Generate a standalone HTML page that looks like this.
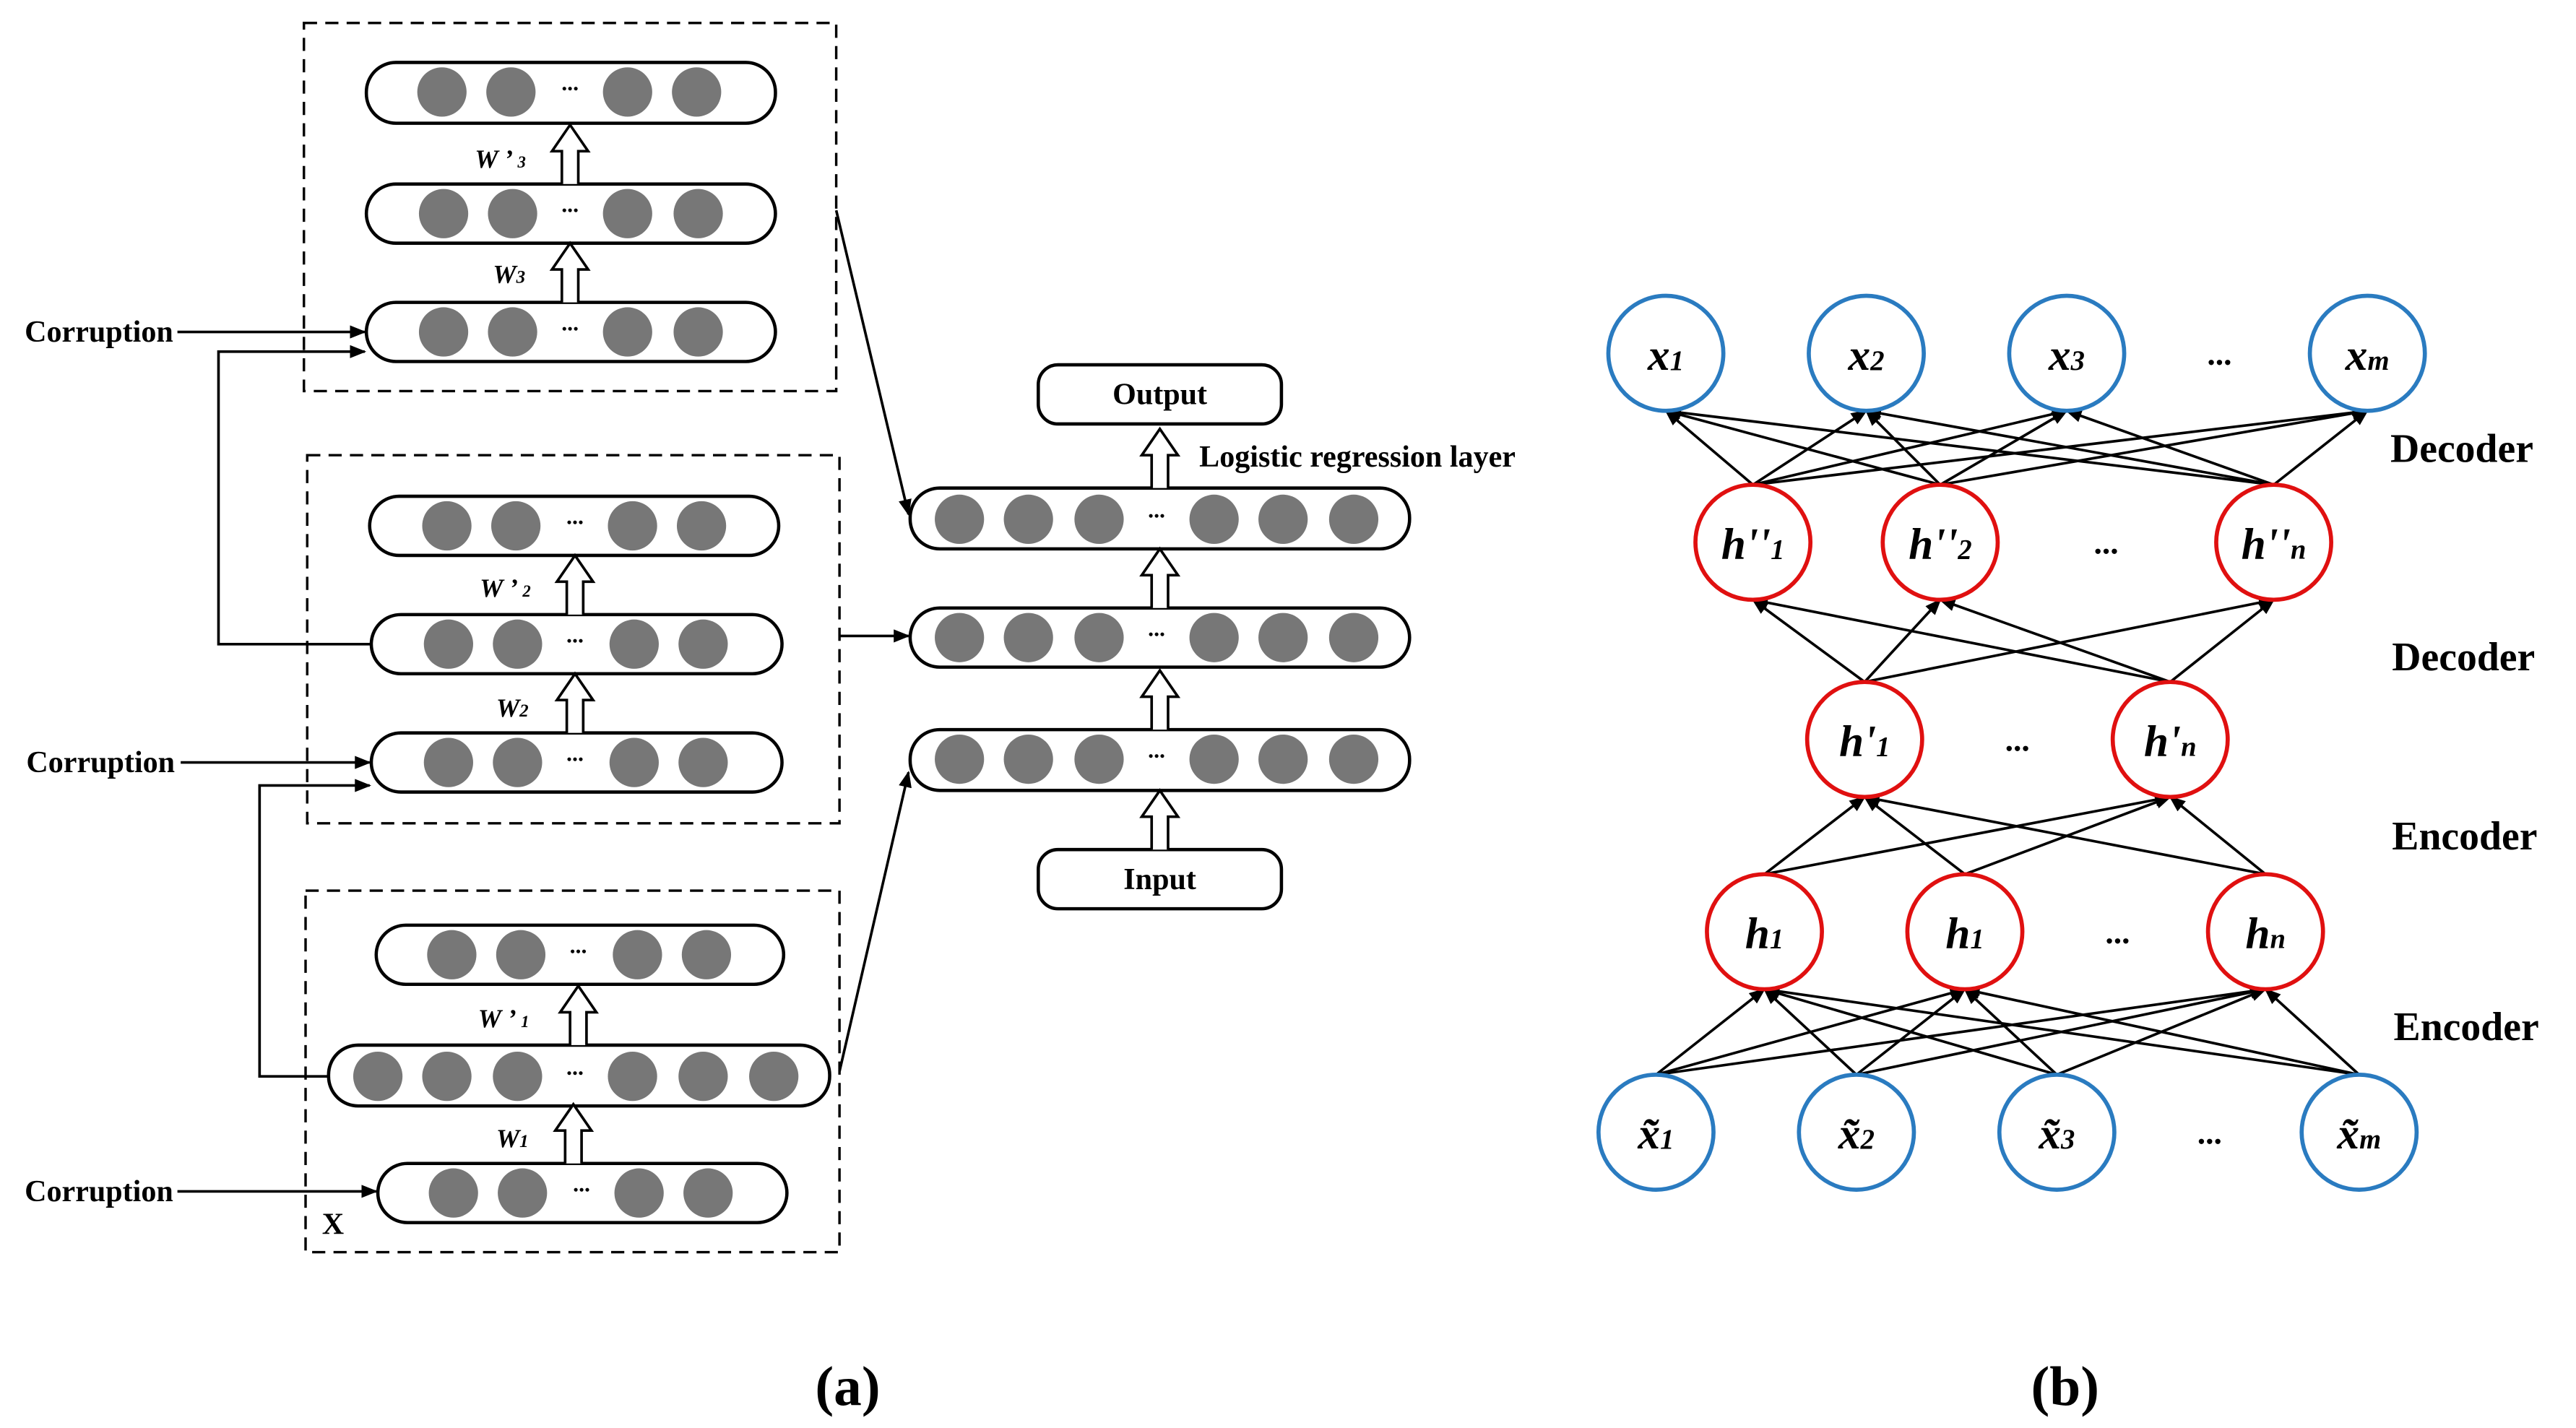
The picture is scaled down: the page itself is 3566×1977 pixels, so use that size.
<!DOCTYPE html>
<html><head><meta charset="utf-8"><style>
html,body{margin:0;padding:0;background:#fff}
svg{display:block}
text{font-family:"Liberation Serif",serif;font-weight:bold}
</style></head><body>
<svg width="3566" height="1977" viewBox="0 0 1568 869" preserveAspectRatio="none" xmlns="http://www.w3.org/2000/svg">
<defs>
<marker id="ar" markerWidth="10" markerHeight="8" refX="9" refY="4" orient="auto" markerUnits="userSpaceOnUse"><path d="M0,0 L10,4 L0,8 z" fill="#000"/></marker>
<g id="ha"><path d="M-5,0 V-20 H-11 L0,-36 L11,-20 H5 V0" fill="#fff" stroke="#000" stroke-width="1.6"/></g>
</defs>
<g fill="none" stroke="#000" stroke-width="1.5" stroke-dasharray="8,5">
<rect x="185" y="14" width="324" height="224"/>
<rect x="187" y="277" width="324" height="224"/>
<rect x="186" y="542" width="325" height="220"/>
</g>
<g stroke="#000" stroke-width="2" fill="#fff">
<rect x="223" y="38" width="249" height="37" rx="18"/>
<rect x="223" y="112" width="249" height="36" rx="18"/>
<rect x="223" y="184" width="249" height="36" rx="18"/>
<rect x="225" y="302" width="249" height="36" rx="18"/>
<rect x="226" y="374" width="250" height="36" rx="18"/>
<rect x="226" y="446" width="250" height="36" rx="18"/>
<rect x="229" y="563" width="248" height="36" rx="18"/>
<rect x="200" y="636" width="305" height="37" rx="18"/>
<rect x="230" y="708" width="249" height="36" rx="18"/>
<rect x="554" y="297" width="304" height="37" rx="18"/>
<rect x="554" y="370" width="304" height="36" rx="18"/>
<rect x="554" y="444" width="304" height="37" rx="18"/>
<rect x="632" y="222" width="148" height="36" rx="12"/>
<rect x="632" y="517" width="148" height="36" rx="12"/>
</g>
<g fill="#777">
<circle cx="269" cy="56" r="15"/><circle cx="311" cy="56" r="15"/><circle cx="382" cy="56" r="15"/><circle cx="424" cy="56" r="15"/>
<circle cx="270" cy="130" r="15"/><circle cx="312" cy="130" r="15"/><circle cx="382" cy="130" r="15"/><circle cx="425" cy="130" r="15"/>
<circle cx="270" cy="202" r="15"/><circle cx="312" cy="202" r="15"/><circle cx="382" cy="202" r="15"/><circle cx="425" cy="202" r="15"/>
<circle cx="272" cy="320" r="15"/><circle cx="314" cy="320" r="15"/><circle cx="385" cy="320" r="15"/><circle cx="427" cy="320" r="15"/>
<circle cx="273" cy="392" r="15"/><circle cx="315" cy="392" r="15"/><circle cx="386" cy="392" r="15"/><circle cx="428" cy="392" r="15"/>
<circle cx="273" cy="464" r="15"/><circle cx="315" cy="464" r="15"/><circle cx="386" cy="464" r="15"/><circle cx="428" cy="464" r="15"/>
<circle cx="275" cy="581" r="15"/><circle cx="317" cy="581" r="15"/><circle cx="388" cy="581" r="15"/><circle cx="430" cy="581" r="15"/>
<circle cx="230" cy="655" r="15"/><circle cx="272" cy="655" r="15"/><circle cx="315" cy="655" r="15"/><circle cx="385" cy="655" r="15"/><circle cx="428" cy="655" r="15"/><circle cx="471" cy="655" r="15"/>
<circle cx="276" cy="726" r="15"/><circle cx="318" cy="726" r="15"/><circle cx="389" cy="726" r="15"/><circle cx="431" cy="726" r="15"/>
<circle cx="584" cy="316" r="15"/><circle cx="626" cy="316" r="15"/><circle cx="669" cy="316" r="15"/><circle cx="739" cy="316" r="15"/><circle cx="781" cy="316" r="15"/><circle cx="824" cy="316" r="15"/>
<circle cx="584" cy="388" r="15"/><circle cx="626" cy="388" r="15"/><circle cx="669" cy="388" r="15"/><circle cx="739" cy="388" r="15"/><circle cx="781" cy="388" r="15"/><circle cx="824" cy="388" r="15"/>
<circle cx="584" cy="462" r="15"/><circle cx="626" cy="462" r="15"/><circle cx="669" cy="462" r="15"/><circle cx="739" cy="462" r="15"/><circle cx="781" cy="462" r="15"/><circle cx="824" cy="462" r="15"/>
</g>
<g font-size="14" text-anchor="middle">
<text x="347" y="55">...</text><text x="347" y="129">...</text><text x="347" y="201">...</text>
<text x="350" y="319">...</text><text x="350" y="391">...</text><text x="350" y="463">...</text>
<text x="352" y="580">...</text><text x="350" y="654">...</text><text x="354" y="725">...</text>
<text x="704" y="315">...</text><text x="704" y="387">...</text><text x="704" y="461">...</text>
</g>
<use href="#ha" x="347" y="112"/><use href="#ha" x="347" y="184"/>
<use href="#ha" x="350" y="374"/><use href="#ha" x="350" y="446"/>
<use href="#ha" x="352" y="636"/><use href="#ha" x="349" y="708"/>
<use href="#ha" x="706" y="297"/><use href="#ha" x="706" y="370"/><use href="#ha" x="706" y="444"/><use href="#ha" x="706" y="517"/>
<g font-size="16" font-style="italic">
<text x="289" y="102">W ’ <tspan font-size="10">3</tspan></text>
<text x="300" y="172">W<tspan font-size="11">3</tspan></text>
<text x="292" y="363">W ’ <tspan font-size="10">2</tspan></text>
<text x="302" y="436">W<tspan font-size="11">2</tspan></text>
<text x="291" y="625">W ’ <tspan font-size="10">1</tspan></text>
<text x="302" y="698">W<tspan font-size="11">1</tspan></text>
</g>
<g font-size="18.5">
<text x="15" y="208">Corruption</text>
<text x="16" y="470">Corruption</text>
<text x="15" y="731">Corruption</text>
<text x="196" y="751">X</text>
<text x="706" y="246" text-anchor="middle">Output</text>
<text x="706" y="541" text-anchor="middle">Input</text>
</g>
<text x="730" y="284" font-size="18.5">Logistic regression layer</text>
<g stroke="#000" stroke-width="1.6" fill="none" marker-end="url(#ar)">
<line x1="108" y1="202" x2="222" y2="202"/>
<line x1="110" y1="464" x2="225" y2="464"/>
<line x1="108" y1="725" x2="229" y2="725"/>
<polyline points="226,392 133,392 133,214 222,214"/>
<polyline points="200,655 158,655 158,478 225,478"/>
<line x1="509" y1="128" x2="553" y2="313"/>
<line x1="511" y1="387" x2="553" y2="387"/>
<line x1="511" y1="652" x2="553" y2="470"/>
</g>
<g stroke="#000" stroke-width="1.6" marker-end="url(#ar)">
<line x1="1067" y1="295" x2="1014" y2="250"/><line x1="1067" y1="295" x2="1136" y2="250"/><line x1="1067" y1="295" x2="1258" y2="250"/><line x1="1067" y1="295" x2="1441" y2="250"/>
<line x1="1181" y1="295" x2="1014" y2="250"/><line x1="1181" y1="295" x2="1136" y2="250"/><line x1="1181" y1="295" x2="1258" y2="250"/><line x1="1181" y1="295" x2="1441" y2="250"/>
<line x1="1384" y1="295" x2="1014" y2="250"/><line x1="1384" y1="295" x2="1136" y2="250"/><line x1="1384" y1="295" x2="1258" y2="250"/><line x1="1384" y1="295" x2="1441" y2="250"/>
<line x1="1135" y1="415" x2="1067" y2="365"/><line x1="1135" y1="415" x2="1181" y2="365"/><line x1="1135" y1="415" x2="1384" y2="365"/>
<line x1="1321" y1="415" x2="1067" y2="365"/><line x1="1321" y1="415" x2="1181" y2="365"/><line x1="1321" y1="415" x2="1384" y2="365"/>
<line x1="1074" y1="532" x2="1135" y2="485"/><line x1="1074" y1="532" x2="1321" y2="485"/>
<line x1="1196" y1="532" x2="1135" y2="485"/><line x1="1196" y1="532" x2="1321" y2="485"/>
<line x1="1379" y1="532" x2="1135" y2="485"/><line x1="1379" y1="532" x2="1321" y2="485"/>
<line x1="1008" y1="654" x2="1074" y2="602"/><line x1="1008" y1="654" x2="1196" y2="602"/><line x1="1008" y1="654" x2="1379" y2="602"/>
<line x1="1130" y1="654" x2="1074" y2="602"/><line x1="1130" y1="654" x2="1196" y2="602"/><line x1="1130" y1="654" x2="1379" y2="602"/>
<line x1="1252" y1="654" x2="1074" y2="602"/><line x1="1252" y1="654" x2="1196" y2="602"/><line x1="1252" y1="654" x2="1379" y2="602"/>
<line x1="1436" y1="654" x2="1074" y2="602"/><line x1="1436" y1="654" x2="1196" y2="602"/><line x1="1436" y1="654" x2="1379" y2="602"/>
</g>
<g fill="#fff" stroke-width="2.5">
<g stroke="#2a7bc0">
<circle cx="1014" cy="215" r="35"/><circle cx="1136" cy="215" r="35"/><circle cx="1258" cy="215" r="35"/><circle cx="1441" cy="215" r="35"/>
<circle cx="1008" cy="689" r="35"/><circle cx="1130" cy="689" r="35"/><circle cx="1252" cy="689" r="35"/><circle cx="1436" cy="689" r="35"/>
</g>
<g stroke="#e01010">
<circle cx="1067" cy="330" r="35"/><circle cx="1181" cy="330" r="35"/><circle cx="1384" cy="330" r="35"/>
<circle cx="1135" cy="450" r="35"/><circle cx="1321" cy="450" r="35"/>
<circle cx="1074" cy="567" r="35"/><circle cx="1196" cy="567" r="35"/><circle cx="1379" cy="567" r="35"/>
</g>
</g>
<g font-size="27" font-style="italic" text-anchor="middle">
<text x="1014" y="225">x<tspan font-size="17">1</tspan></text>
<text x="1136" y="225">x<tspan font-size="17">2</tspan></text>
<text x="1258" y="225">x<tspan font-size="17">3</tspan></text>
<text x="1441" y="225">x<tspan font-size="17">m</tspan></text>
<text x="1067" y="340">h''<tspan font-size="17">1</tspan></text>
<text x="1181" y="340">h''<tspan font-size="17">2</tspan></text>
<text x="1384" y="340">h''<tspan font-size="17">n</tspan></text>
<text x="1135" y="460">h'<tspan font-size="17">1</tspan></text>
<text x="1321" y="460">h'<tspan font-size="17">n</tspan></text>
<text x="1074" y="577">h<tspan font-size="17">1</tspan></text>
<text x="1196" y="577">h<tspan font-size="17">1</tspan></text>
<text x="1379" y="577">h<tspan font-size="17">n</tspan></text>
<text x="1008" y="699">x̃<tspan font-size="17">1</tspan></text>
<text x="1130" y="699">x̃<tspan font-size="17">2</tspan></text>
<text x="1252" y="699">x̃<tspan font-size="17">3</tspan></text>
<text x="1436" y="699">x̃<tspan font-size="17">m</tspan></text>
</g>
<g font-size="20" text-anchor="middle">
<text x="1351" y="222">...</text><text x="1282" y="337">...</text><text x="1228" y="457">...</text>
<text x="1289" y="574">...</text><text x="1345" y="696">...</text>
</g>
<g font-size="24.5">
<text x="1455" y="281">Decoder</text>
<text x="1456" y="408">Decoder</text>
<text x="1456" y="517">Encoder</text>
<text x="1457" y="633">Encoder</text>
</g>
<g font-size="34" text-anchor="middle">
<text x="516" y="855">(a)</text>
<text x="1257" y="855">(b)</text>
</g>
</svg>
</body></html>
